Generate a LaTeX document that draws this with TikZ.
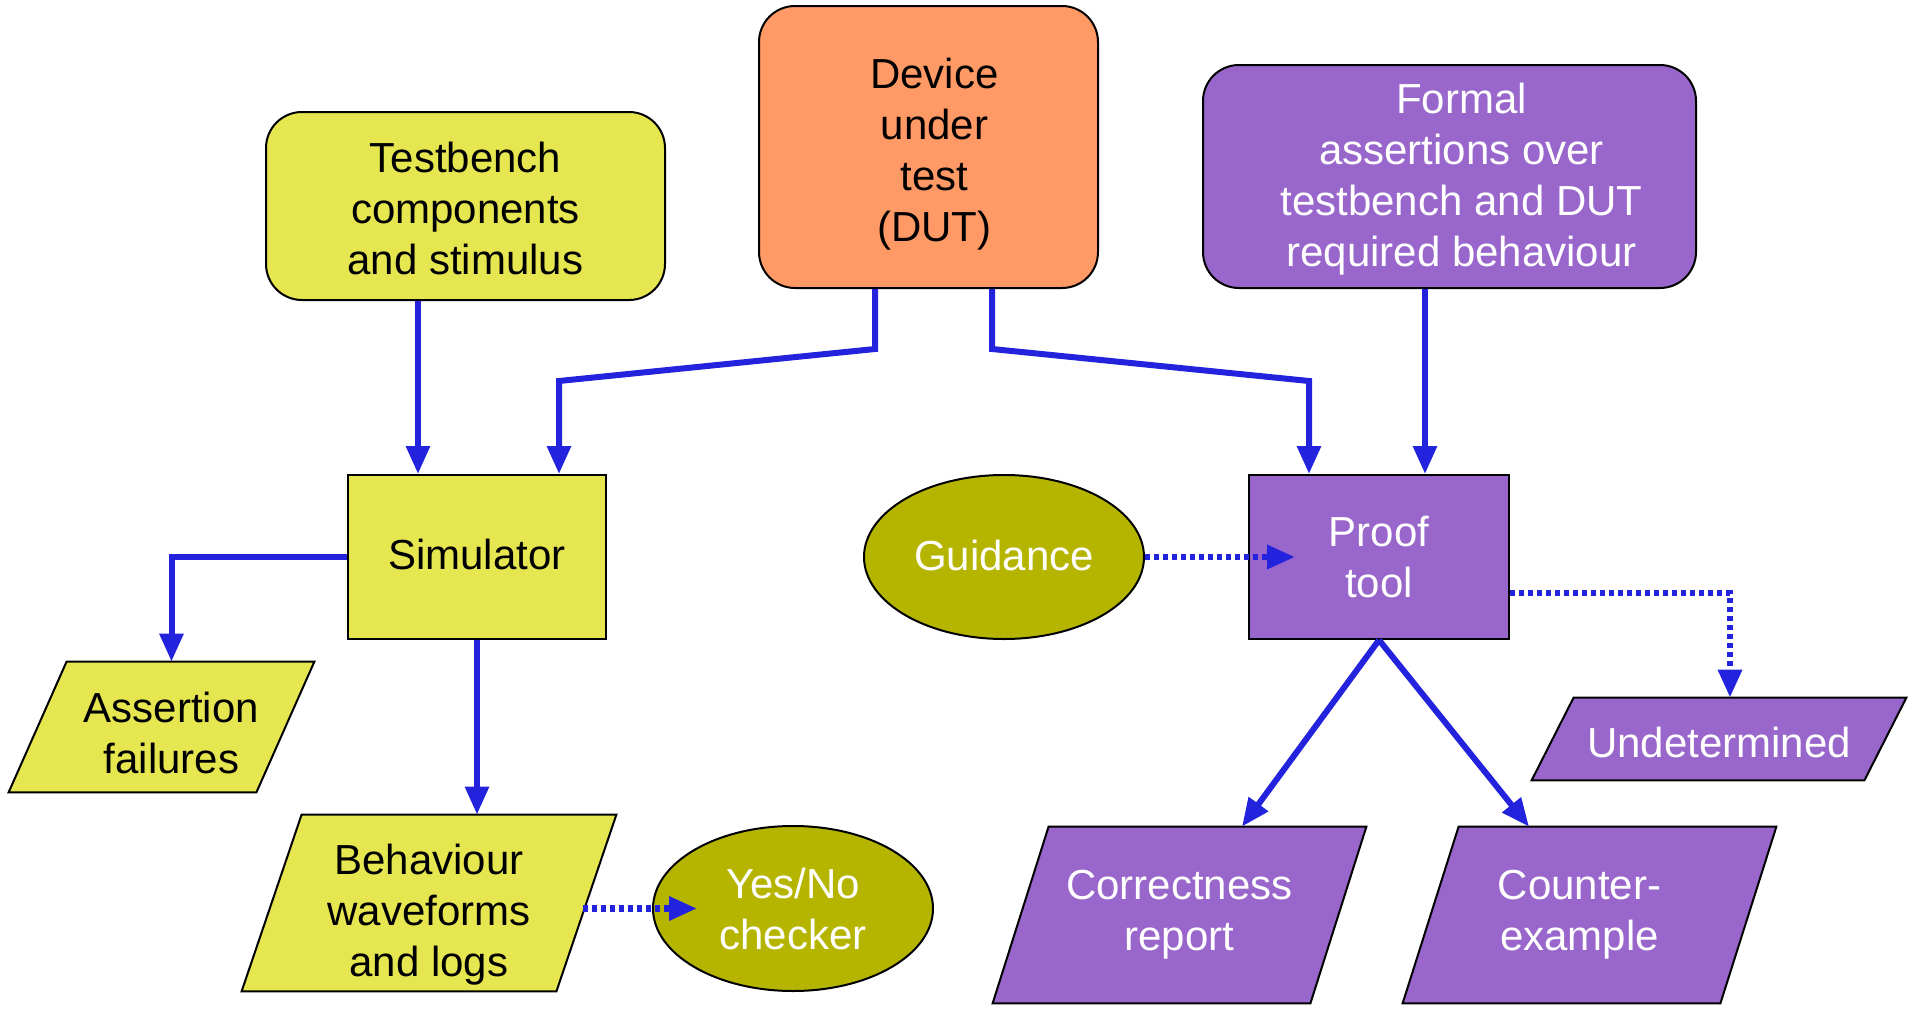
\documentclass[tikz,border=0pt]{standalone}
\usepackage{fontspec}
\setmainfont{Liberation Sans}
\usetikzlibrary{arrows.meta,shapes.geometric,backgrounds}
\definecolor{cyel}{HTML}{E6E650}
\definecolor{corange}{HTML}{FF9966}
\definecolor{cpurple}{HTML}{9966CC}
\definecolor{colive}{HTML}{B5B500}
\definecolor{cblue}{HTML}{2323DD}
\newcommand\parashape[3]{%
  \filldraw[fill=#3, draw=black, line width=1pt] ([xshift=#2]#1.north west) -- (#1.north east) -- ([xshift=-#2]#1.south east) -- (#1.south west) -- cycle;}
\begin{document}
\begin{tikzpicture}[x=0.5pt,y=-0.5pt,
  font=\fontsize{21pt}{25.5pt}\selectfont,
  box/.style={draw=black, line width=1pt, align=center, inner sep=0pt},
  rbox/.style={box, rounded corners=18pt},
  ell/.style={box, ellipse, fill=colive, text=white},
  para/.style={align=center, inner sep=0pt},
  every label/.style={align=center, inner sep=0pt},
  conn/.style={draw=cblue, line width=3pt, -{Triangle[length=14pt,width=11.5pt]}},
  dconn/.style={conn, line width=3.2pt, dash pattern=on 2.5pt off 2pt},
]
\useasboundingbox (0,0) rectangle (1913,1017);
\node[rbox, fill=cyel, minimum width=199.5pt, minimum height=94pt,
  label={[yshift=-1pt]center:{Testbench\\components\\and stimulus}}] (tb) at (465.5,206) {};
\node[rbox, fill=corange, minimum width=169.5pt, minimum height=141pt,
  label={[xshift=3pt,yshift=-3.5pt]center:{Device\\under\\test\\(DUT)}}] (dut) at (928.5,147) {};
\node[rbox, fill=cpurple, minimum width=246.5pt, minimum height=111.5pt,
  label={[text=white,xshift=6pt,yshift=-1.2pt]center:{Formal\\assertions over\\testbench and DUT\\required behaviour}}] (formal) at (1449.5,176.5) {};
\node[box, fill=cyel, minimum width=129pt, minimum height=82pt,
  label={[yshift=1.2pt]center:Simulator}] (sim) at (477,557) {};
\node[ell, minimum width=140pt, minimum height=82pt,
  label={[text=white,yshift=1pt]center:Guidance}] (guid) at (1004,557) {};
\node[box, fill=cpurple, text=white, minimum width=130pt, minimum height=82pt] (proof) at (1379,557) {Proof\\tool};
\node[para, minimum width=152.5pt, minimum height=65pt,
  label={[xshift=5pt,yshift=-2.8pt]center:{Assertion\\failures}}] (af) at (161.5,727) {};
\node[para, minimum width=187pt, minimum height=88pt,
  label={[yshift=-6pt]center:{Behaviour\\waveforms\\and logs}}] (beh) at (429,903) {};
\node[ell, minimum width=140pt, minimum height=82.5pt] (yn) at (793,908.5) {Yes/No\\checker};
\node[para, minimum width=187pt, minimum height=41pt,
  label={[text=white,yshift=-1.8pt]center:Undetermined}] (und) at (1719,739) {};
\node[para, text=white, minimum width=186.5pt, minimum height=88pt] (cor) at (1179.5,915) {Correctness\\report};
\node[para, minimum width=186.5pt, minimum height=88pt,
  label={[text=white,xshift=-5pt]center:{Counter-\\example}}] (ce) at (1589.5,915) {};
\begin{pgfonlayer}{background}
\fill[white] (0,0) rectangle (1913,1017);
\parashape{af}{29pt}{cyel}
\parashape{beh}{30pt}{cyel}
\parashape{und}{21pt}{cpurple}
\parashape{cor}{28pt}{cpurple}
\parashape{ce}{28pt}{cpurple}
\end{pgfonlayer}
% connectors
\coordinate (tbx) at ([xshift=-29.5pt]sim.north);
\draw[conn] (tbx |- tb.south) -- (tbx);
\coordinate (d1) at ([xshift=-26.75pt]dut.south);
\coordinate (s1) at ([xshift=41pt]sim.north);
\draw[conn] (d1) -- ++(0,60) -- ([yshift=46.5pt]s1) -- (s1);
\coordinate (d2) at ([xshift=31.75pt]dut.south);
\coordinate (p1) at ([xshift=-35pt]proof.north);
\draw[conn] (d2) -- ++(0,60) -- ([yshift=46.5pt]p1) -- (p1);
\coordinate (p2) at ([xshift=23pt]proof.north);
\draw[conn] (p2 |- formal.south) -- (p2);
\draw[conn] (sim.west) -| ([xshift=5pt]af.north);
\draw[conn] (sim.south) -- (sim.south |- beh.north);
\coordinate (y1) at ([xshift=22.5pt]yn.west);
\coordinate (b1) at ([xshift=-16.5pt]beh.east);
\draw[dconn] (b1 |- y1) -- (y1);
\draw[dconn] (guid.east) -- ([xshift=23.5pt]proof.west);
\draw[dconn] ([yshift=-18pt]proof.east) -| ([xshift=5.5pt]und.north);
\draw[conn] (proof.south) -- ([xshift=31.25pt]cor.north);
\draw[conn] (proof.south) -- ([xshift=-30.25pt]ce.north);
\end{tikzpicture}
\end{document}
